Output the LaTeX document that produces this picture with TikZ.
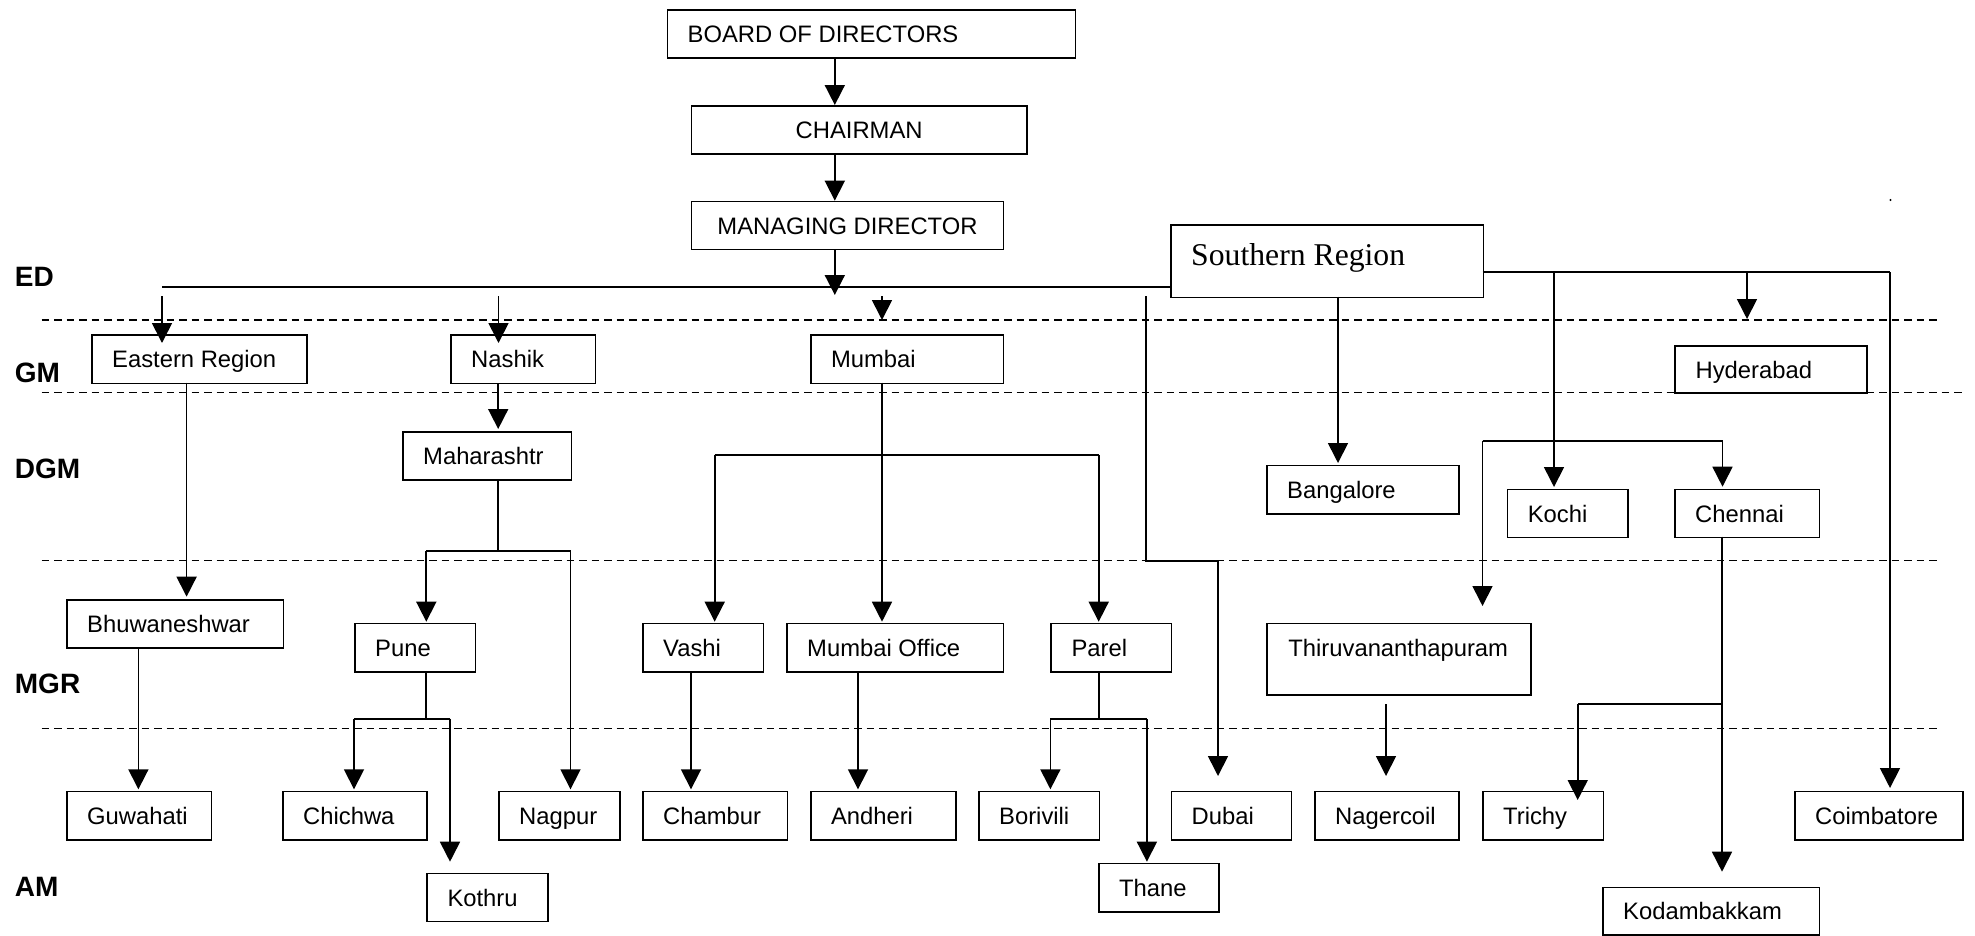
\documentclass[tikz,border=0pt]{standalone}
\usepackage{fontspec}
\setmainfont{Liberation Sans}
\newfontfamily\serifregion{Liberation Serif}
\usetikzlibrary{arrows.meta}

\tikzset{
  box/.style={draw, line width=1.7pt, inner sep=0pt, rectangle},
  lbl/.style={inner sep=0pt, text height=17pt, text depth=0pt,
              font=\fontsize{23.8pt}{28pt}\selectfont},
  lvl/.style={inner sep=0pt, anchor=west, text height=20pt, text depth=0pt,
              font=\fontsize{28pt}{32pt}\selectfont\bfseries},
  link/.style={line width=1.7pt},
  arr/.style={line width=1.7pt, -{Triangle[width=20pt,length=20pt]}},
  sep/.style={line width=1.6pt, dash pattern=on 7.5pt off 5pt},
}

% unit box: name, x1, y1, x2, y2, text (text sits 21pt from the left edge)
\newcommand\unit[6]{%
  \node[box, anchor=north west, minimum width={(#4-#2)*1pt},
        minimum height={(#5-#3)*1pt}] (#1) at (#2,#3) {};
  \node[lbl, anchor=west, xshift=21pt] (#1-t) at (#1.west) {#6};}

\begin{document}
\begin{tikzpicture}[x=1pt, y=-1pt]
\useasboundingbox (0,0) rectangle (1975,935);

% level separators
\draw[sep] (41.5,320) -- (1939,320);
\draw[sep] (41.5,392.5) -- (1962,392.5);
\draw[sep] (41.5,560.5) -- (1939,560.5);
\draw[sep] (41.5,728.5) -- (1939,728.5);

% level names
\node[lvl] (lED)  at (14.7,276)   {ED};
\node[lvl] (lGM)  at (14.7,372.5) {GM};
\node[lvl] (lDGM) at (14.7,468)   {DGM};
\node[lvl] (lMGR) at (14.7,683)   {MGR};
\node[lvl] (lAM)  at (14.7,886)   {AM};

% top management
\unit{board}{666.5}{9}{1074.6}{57}{BOARD OF DIRECTORS}
\node[box, anchor=north west, minimum width=335.4pt, minimum height=48pt] (chair) at (690.6,105) {};
\node[lbl] (chair-t) at (chair.center) {CHAIRMAN};
\node[box, anchor=north west, minimum width=312.1pt, minimum height=48pt] (md) at (690.6,200.7) {};
\node[lbl] (md-t) at (md.center) {MANAGING DIRECTOR};

\node[box, anchor=north west, minimum width=312.5pt, minimum height=72.4pt] (sr) at (1170,224.3) {};
\node[inner sep=0pt, anchor=base west, font=\serifregion\fontsize{31.7pt}{36pt}\selectfont]
  (sr-t) at (1191,265.5) {Southern Region};

% GM level
\unit{east}{91}{334.3}{306}{382.7}{Eastern Region}
\unit{nashik}{450}{334.3}{594.6}{382.7}{Nashik}
\unit{mumbai}{809.8}{334.3}{1002.7}{382.7}{Mumbai}
\unit{hyd}{1674.4}{345}{1866.3}{392.3}{Hyderabad}

% DGM level
\unit{maha}{402}{431}{570.5}{479}{Maharashtr}
\unit{bang}{1266}{464.5}{1458}{513}{Bangalore}
\unit{kochi}{1506.6}{488.7}{1626.8}{536.7}{Kochi}
\unit{chennai}{1674}{488.7}{1818.6}{536.7}{Chennai}

% MGR level
\unit{bhu}{66}{599}{282.6}{647}{Bhuwaneshwar}
\unit{pune}{354}{622.7}{474.6}{671}{Pune}
\unit{vashi}{642}{622.7}{762.5}{671}{Vashi}
\unit{mumoff}{786}{622.7}{1002.7}{671}{Mumbai Office}
\unit{parel}{1050.4}{622.7}{1170.5}{671}{Parel}
\node[box, anchor=north west, minimum width=263.8pt, minimum height=71.5pt] (thiru) at (1266.2,622.7) {};
\node[lbl, anchor=west, xshift=22pt, yshift=11pt] (thiru-t) at (thiru.west) {Thiruvananthapuram};

% AM level
\unit{guw}{66}{790.7}{210.7}{839}{Guwahati}
\unit{chich}{282}{790.7}{426.3}{839}{Chichwa}
\unit{nagpur}{498}{790.7}{618.8}{839}{Nagpur}
\unit{chambur}{642}{790.7}{786.6}{839}{Chambur}
\unit{andheri}{809.8}{790.7}{955}{839}{Andheri}
\unit{bori}{978}{790.7}{1098.7}{839}{Borivili}
\unit{dubai}{1170.5}{790.7}{1290.6}{839}{Dubai}
\unit{nager}{1314}{790.7}{1458.4}{839}{Nagercoil}
\unit{trichy}{1482}{790.7}{1602.6}{839}{Trichy}
\unit{coim}{1794}{790.7}{1962}{839}{Coimbatore}
\unit{kothru}{426.3}{872.7}{546.9}{920.7}{Kothru}
\unit{thane}{1097.8}{862.7}{1218.3}{911}{Thane}
\unit{kodam}{1602}{886.7}{1818.7}{934}{Kodambakkam}

% stray mark right of the chart
\fill (1890.5,200) circle (1.1pt);

% routing points
\coordinate (spine) at (834.8,0);
\coordinate (mdtip) at (834.8,295);
\coordinate (busL) at (162,287);
\coordinate (eTop) at (162,296);   \coordinate (eTip) at (162,343);
\coordinate (nTop) at (498.5,296); \coordinate (nTip) at (498.5,343);
\coordinate (mTop) at (882,296);   \coordinate (mTip) at (882,320);
\coordinate (dTop) at (1146,296);  \coordinate (dBend) at (1146,560.7);
\coordinate (dDrop) at (1218,560.7); \coordinate (dTip) at (1218,776);
\coordinate (sRow) at (1482.5,272.3);
\coordinate (cCorner) at (1890,272.3); \coordinate (cTip) at (1890,788);
\coordinate (kTop) at (1554,272.3);    \coordinate (kTip) at (1554,487);
\coordinate (hTop) at (1747,272.3);    \coordinate (hTip) at (1747,319);
\coordinate (bTop) at (1338,296.7);    \coordinate (bTip) at (1338,463);
\coordinate (chL) at (1482.5,440.7);   \coordinate (chR) at (1722.5,440.7);
\coordinate (chTip) at (1722.5,486.7); \coordinate (thTip) at (1482.5,606);
\coordinate (cnTop) at (1722,536.7);   \coordinate (cnMid) at (1722,704);
\coordinate (koTip) at (1722,871.7);
\coordinate (trL) at (1577.7,704);     \coordinate (trTip) at (1577.7,800);
\coordinate (ngTop) at (1386,704);     \coordinate (ngTip) at (1386,776);
\coordinate (ebTop) at (186.6,382.7);  \coordinate (ebTip) at (186.6,596.7);
\coordinate (bgTop) at (138.4,647);    \coordinate (bgTip) at (138.4,789.3);
\coordinate (mhA) at (498.2,383);      \coordinate (mhB) at (498.2,429);
\coordinate (mhC) at (498.2,479);      \coordinate (mhD) at (498.2,550.7);
\coordinate (mhL) at (426.3,550.7);    \coordinate (mhR) at (570.5,550.7);
\coordinate (puTip) at (426.3,621.7);  \coordinate (npTip) at (570.5,789.3);
\coordinate (pnA) at (426.3,671);      \coordinate (pnB) at (426.3,718.7);
\coordinate (pnL) at (354,718.7);      \coordinate (pnR) at (450,718.7);
\coordinate (chcTip) at (354,789.3);   \coordinate (ktTip) at (450,861.7);
\coordinate (muA) at (882,382.7);      \coordinate (muTip) at (882,621.7);
\coordinate (muL) at (714.7,455);      \coordinate (muR) at (1098.7,455);
\coordinate (vaTip) at (714.7,621.7);  \coordinate (paTip) at (1098.7,621.7);
\coordinate (vaA) at (691,671);        \coordinate (vaTip2) at (691,789.3);
\coordinate (moA) at (858,671);        \coordinate (moTip) at (858,789.3);
\coordinate (prA) at (1098.7,671);     \coordinate (prB) at (1098.7,719);
\coordinate (prL) at (1050.4,719);     \coordinate (prR) at (1146.9,719);
\coordinate (boTip) at (1050.4,789.3); \coordinate (thnTip) at (1146.9,861.7);

% top chain
\draw[arr] (board.south -| spine) -- (chair.north -| spine);
\draw[arr] (chair.south -| spine) -- (md.north -| spine);
\draw[arr] (md.south -| spine) -- (mdtip);
\draw[link] (busL) -- (busL -| sr.west);
\draw[arr] (eTop) -- (eTip);
\draw[arr] (nTop) -- (nTip);
\draw[arr] (mTop) -- (mTip);
\draw[link] (dTop) -- (dBend) -- (dDrop);
\draw[arr] (dDrop) -- (dTip);

% southern region
\draw[link] (sRow) -- (cCorner);
\draw[arr] (cCorner) -- (cTip);
\draw[arr] (kTop) -- (kTip);
\draw[arr] (hTop) -- (hTip);
\draw[arr] (bTop) -- (bTip);
\draw[link] (chL) -- (chR);
\draw[arr] (chR) -- (chTip);
\draw[arr] (chL) -- (thTip);
\draw[arr] (cnTop) -- (koTip);
\draw[link] (cnMid) -- (trL);
\draw[arr] (trL) -- (trTip);
\draw[arr] (ngTop) -- (ngTip);

% eastern region
\draw[arr] (ebTop) -- (ebTip);
\draw[arr] (bgTop) -- (bgTip);

% nashik / maharashtra
\draw[arr] (mhA) -- (mhB);
\draw[link] (mhC) -- (mhD);
\draw[link] (mhL) -- (mhR);
\draw[arr] (mhL) -- (puTip);
\draw[arr] (mhR) -- (npTip);
\draw[link] (pnA) -- (pnB);
\draw[link] (pnL) -- (pnR);
\draw[arr] (pnL) -- (chcTip);
\draw[arr] (pnR) -- (ktTip);

% mumbai
\draw[arr] (muA) -- (muTip);
\draw[link] (muL) -- (muR);
\draw[arr] (muL) -- (vaTip);
\draw[arr] (muR) -- (paTip);
\draw[arr] (vaA) -- (vaTip2);
\draw[arr] (moA) -- (moTip);
\draw[link] (prA) -- (prB);
\draw[link] (prL) -- (prR);
\draw[arr] (prL) -- (boTip);
\draw[arr] (prR) -- (thnTip);
\end{tikzpicture}
\end{document}
